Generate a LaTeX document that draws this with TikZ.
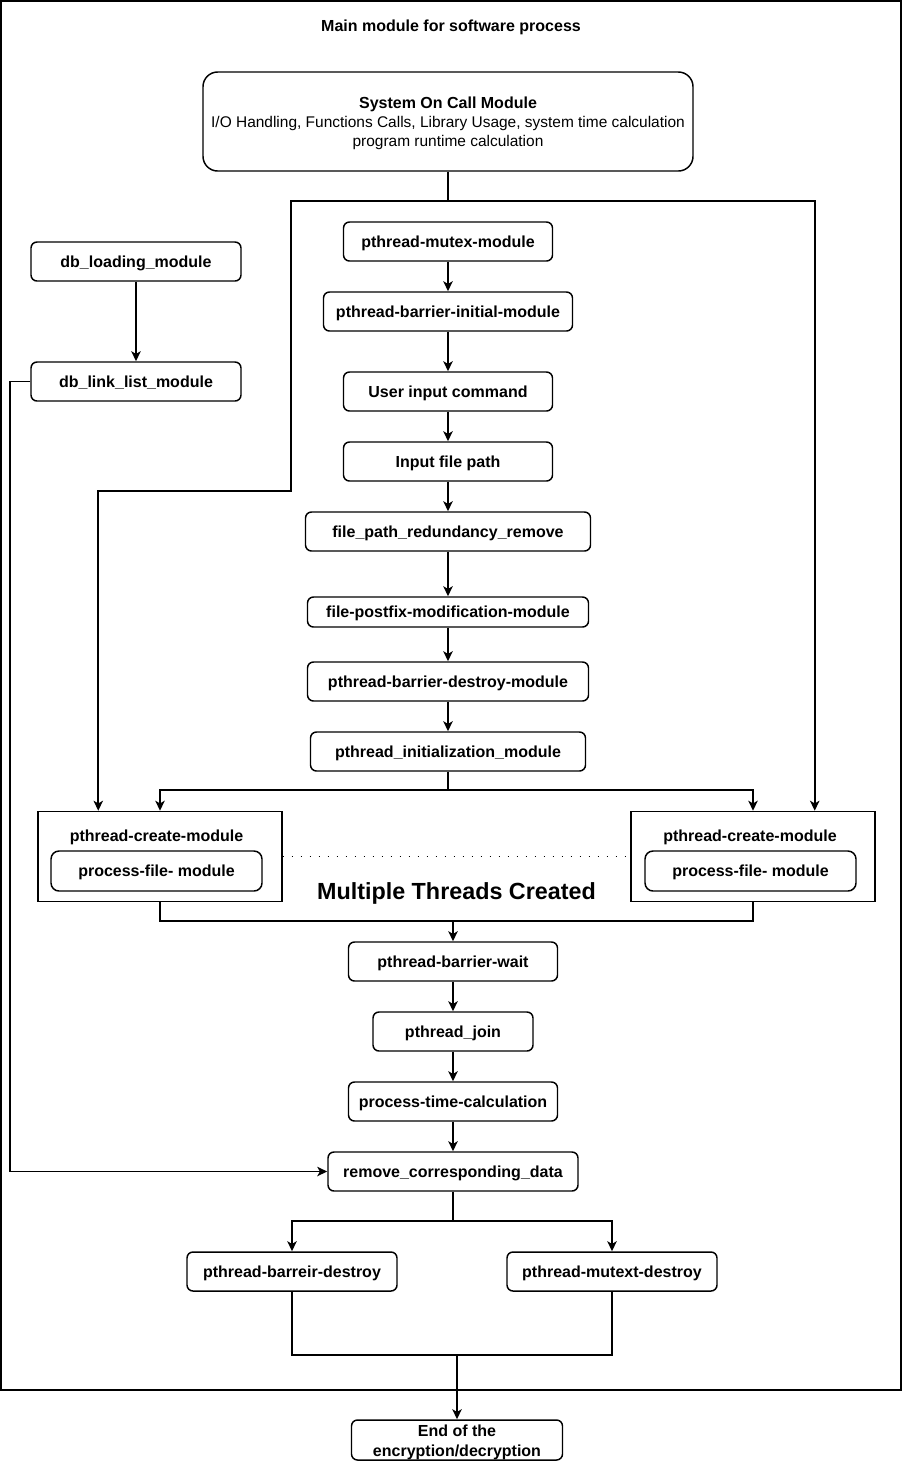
\documentclass[tikz,border=0pt]{standalone}
\usepackage{fontspec}
\setmainfont{Liberation Sans}
\usetikzlibrary{arrows.meta,calc}
\begin{document}
\begin{tikzpicture}[x=0.75pt,y=-0.75pt,
  lbl/.style={font=\bfseries\fontsize{12}{14}\selectfont, inner sep=0pt, align=center},
  one/.style={text height=10pt, text depth=1.7pt},
  box/.style={draw, line width=1.1pt, rounded corners=4.5pt, lbl},
  plain/.style={draw, line width=1.1pt, inner sep=0pt},
  wh/.style 2 args={minimum width=#1*0.75pt, minimum height=#2*0.75pt},
  conn/.style={line width=1.4pt},
  arr/.style={conn, -{Stealth[length=7.5pt,width=7pt,inset=2pt]}},
]
\useasboundingbox (0,0) rectangle (902,1461);

% outer frame
\node[plain, wh={900}{1389}] (main) at (451,695.5) {};
\node[lbl, one] (title) at (451,26) {Main module for software process};

% top module
\node[draw, line width=1.1pt, rounded corners=11pt, inner sep=0pt, align=center,
      font=\fontsize{11.6}{14.25}\selectfont, wh={490}{99}] (sys) at (448,121.5)
  {\rule{0pt}{12pt}{\bfseries\fontsize{12}{14.25}\selectfont System On Call Module}\\I/O Handling, Functions Calls, Library Usage, system time calculation\\program runtime calculation};

% central column
\node[box, one, wh={209}{39}] (mutex) at (448,241.5) {pthread-mutex-module};
\node[box, one, wh={249}{39}] (binit) at (448,311.5) {pthread-barrier-initial-module};
\node[box, one, wh={209}{39}] (uic)   at (448,391.5) {User input command};
\node[box, one, wh={209}{39}] (ifp)   at (448,461.5) {Input file path};
\node[box, one, wh={285}{39}] (fprr)  at (448,531.5) {file\_path\_redundancy\_remove};
\node[box, one, wh={281}{30}] (fpm)   at (448,612)   {file-postfix-modification-module};
\node[box, one, wh={281}{39}] (bdm)   at (448,681.5) {pthread-barrier-destroy-module};
\node[box, one, wh={275}{39}] (pinit) at (448,751.5) {pthread\_initialization\_module};

% left db column
\node[box, one, wh={210}{39}] (dbl)  at (136,261.5) {db\_loading\_module};
\node[box, one, wh={210}{39}] (dbll) at (136,381.5) {db\_link\_list\_module};

% thread boxes
\node[plain, wh={244}{90}] (lpc) at (160,856.5) {};
\node[lbl, one] (lpct) at (156.5,836) {pthread-create-module};
\node[box, one, rounded corners=6pt, wh={211}{40}] (lpf) at (156.5,871) {process-file- module};
\node[plain, wh={244}{90}] (rpc) at (753,856.5) {};
\node[lbl, one] (rpct) at (750,836) {pthread-create-module};
\node[box, one, rounded corners=6pt, wh={211}{40}] (rpf) at (750.5,871) {process-file- module};
\node[lbl, font=\bfseries\fontsize{17.5}{20}\selectfont] (mtc) at (456.5,893.5) {Multiple Threads Created};
\draw[line width=1pt, dash pattern=on 1pt off 5.75pt] (lpc.east) -- (rpc.west);

% lower column
\node[box, one, wh={209}{39}] (bw)  at (453,961.5)  {pthread-barrier-wait};
\node[box, one, wh={160}{39}] (pj)  at (453,1031.5) {pthread\_join};
\node[box, one, wh={209}{39}] (ptc) at (453,1101.5) {process-time-calculation};
\node[box, one, wh={250}{39}] (rcd) at (453,1171.5) {remove\_corresponding\_data};
\node[box, one, wh={210}{39}] (pbd) at (292,1271.5) {pthread-barreir-destroy};
\node[box, one, wh={210}{39}] (pmd) at (612,1271.5) {pthread-mutext-destroy};
\node[box, wh={211}{40}, font=\bfseries\fontsize{12}{15}\selectfont] (endn) at (457,1440) {\rule{0pt}{12pt}End of the\\encryption/decryption};

% junctions
\coordinate (j1) at (448,201);
\coordinate (j2) at (448,790);
\coordinate (j3) at (453,921);
\coordinate (j4) at (453,1221);
\coordinate (j5) at (457,1355);

% connectors
\draw[conn] (sys.south) -- (j1);
\draw[arr] (j1) -| (291,491) -| ($(lpc.north west)+(61,0)$);
\draw[arr] (j1) -| ($(rpc.north east)+(-61,0)$);

\draw[arr] (mutex) -- (binit);
\draw[arr] (binit) -- (uic);
\draw[arr] (uic) -- (ifp);
\draw[arr] (ifp) -- (fprr);
\draw[arr] (fprr) -- (fpm);
\draw[arr] (fpm) -- (bdm);
\draw[arr] (bdm) -- (pinit);

\draw[conn] (pinit.south) -- (j2);
\draw[arr] (j2) -| (lpc.north);
\draw[arr] (j2) -| (rpc.north);

\draw[conn] (lpc.south) |- (j3) -| (rpc.south);
\draw[arr] (j3) -- (bw.north);
\draw[arr] (bw) -- (pj);
\draw[arr] (pj) -- (ptc);
\draw[arr] (ptc) -- (rcd);

\draw[arr] (dbl) -- (dbll);
\draw[arr] (dbll.west) -- ++(-20,0) |- (rcd.west);

\draw[conn] (rcd.south) -- (j4);
\draw[arr] (j4) -| (pbd.north);
\draw[arr] (j4) -| (pmd.north);

\draw[conn] (pbd.south) |- (j5) -| (pmd.south);
\draw[arr] (j5) -- (endn.north);
\end{tikzpicture}
\end{document}
